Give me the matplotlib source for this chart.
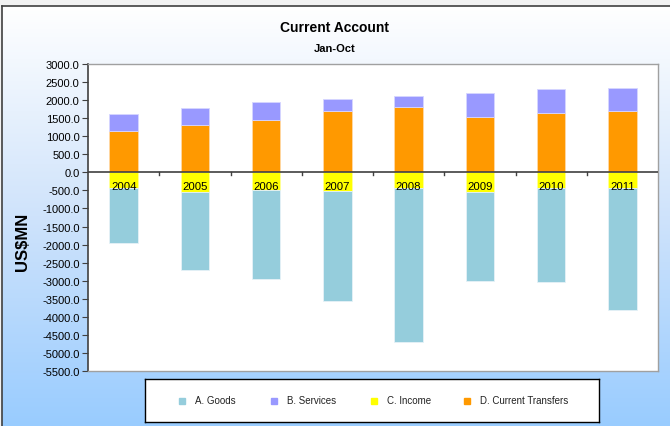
import numpy as np
import matplotlib
matplotlib.use("Agg")
import matplotlib.pyplot as plt
from matplotlib.patches import Rectangle
from matplotlib.colors import LinearSegmentedColormap

plt.rcParams['font.family'] = ['Liberation Sans', 'DejaVu Sans']

years = ['2004', '2005', '2006', '2007', '2008', '2009', '2010', '2011']
goods = [-1514, -2142, -2473, -3037, -4263, -2447, -2594, -3369]
services = [463, 479, 481, 333, 295, 664, 664, 628]
income = [-432, -551, -487, -515, -432, -551, -432, -432]
transfers = [1154, 1304, 1460, 1691, 1820, 1543, 1636, 1700]

yticks = np.arange(-5500, 3001, 500)

W, H = 670, 427
fig = plt.figure(figsize=(W / 100, H / 100), dpi=100)
fig.patch.set_facecolor('#f2f2f2')

# gradient background panel
bg = fig.add_axes([2 / W, 0, 1 - 2 / W, 1 - 7 / H], zorder=0)
grad = np.linspace(0, 1, 256).reshape(-1, 1)
cmap = LinearSegmentedColormap.from_list('g', ['#ffffff', '#cfe3fb', '#99ccff'])
bg.imshow(grad, aspect='auto', cmap=cmap, extent=[0, 1, 0, 1], origin='upper')
bg.set_xlim(0, 1)
bg.set_ylim(0, 1)
bg.axis('off')
bg.plot([0, 0], [0, 1], color='#404040', lw=1.2, transform=bg.transAxes, clip_on=False)
bg.plot([0, 1], [1, 1], color='#404040', lw=1.2, transform=bg.transAxes, clip_on=False)

ax = fig.add_axes([88 / W, 1 - 372 / H, (658 - 88) / W, (372 - 65) / H], zorder=1)
ax.set_facecolor('white')

x = np.arange(len(years))
bw = 0.4
c_goods, c_serv, c_inc, c_trans = '#95cddc', '#9999ff', '#ffff00', '#ff9900'

ax.bar(x, transfers, bw, color=c_trans, edgecolor='#ffd9a6', linewidth=0.6, label='D. Current Transfers')
ax.bar(x, services, bw, bottom=transfers, color=c_serv, edgecolor='#d6d6ff', linewidth=0.6, label='B. Services')
ax.bar(x, income, bw, color=c_inc, edgecolor='#ffff99', linewidth=0.6, label='C. Income')
ax.bar(x, goods, bw, bottom=income, color=c_goods, edgecolor='#e6f2f7', linewidth=0.6, label='A. Goods')

ax.set_xlim(-0.5, len(years) - 0.5)
ax.set_ylim(-5500, 3000)
ax.set_yticks(yticks)
ax.set_yticklabels([f'{v:.1f}' for v in yticks], fontsize=8)
ax.tick_params(axis='y', length=4, width=0.8, color='#404040', pad=2)

ax.set_xticks([])
ax.axhline(0, color='#404040', lw=1.2, zorder=3)
for b in np.arange(0.5, len(years) - 0.5, 1.0):
    ax.plot([b, b], [0, -80], color='#404040', lw=1, zorder=3)
for xi, yr in zip(x, years):
    ax.text(xi, -380, yr, ha='center', va='center', fontsize=8.2, zorder=4)

for s in ['top', 'right', 'bottom']:
    ax.spines[s].set_color('#a0a0a0')
    ax.spines[s].set_linewidth(1)
ax.spines['left'].set_color('#404040')
ax.spines['left'].set_linewidth(1.2)

fig.text(0.5, 1 - 28 / H, 'Current Account', ha='center', va='center', fontsize=10, fontweight='bold')
fig.text(0.5, 1 - 49 / H, 'Jan-Oct', ha='center', va='center', fontsize=8, fontweight='bold')
fig.text(22 / W, 1 - 242 / H, 'US$MN', ha='center', va='center', rotation=90, fontsize=12, fontweight='bold')

# legend
lax = fig.add_axes([145 / W, 1 - 423 / H, (599 - 145) / W, (423 - 380) / H], zorder=2)
lax.set_xlim(0, 454)
lax.set_ylim(0, 43)
lax.set_xticks([])
lax.set_yticks([])
for s in lax.spines.values():
    s.set_color('black')
    s.set_linewidth(1)
items = [('A. Goods', c_goods, 37), ('B. Services', c_serv, 129), ('C. Income', c_inc, 229), ('D. Current Transfers', c_trans, 322)]
for lab, col, px in items:
    lax.add_patch(Rectangle((px - 3, 21.5 - 3), 6, 6, color=col))
    lax.text(px + 13, 21.5, lab, va='center', ha='left', fontsize=7, color='#222222')

fig.savefig('out.png', dpi=100)
